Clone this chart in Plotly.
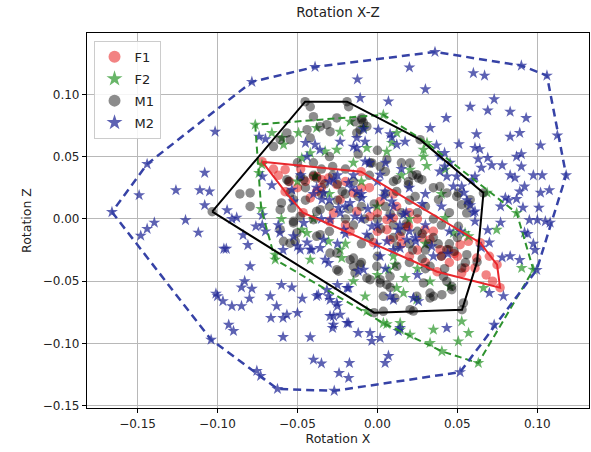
import plotly.graph_objects as go

# ---------------- data ----------------
F1_x = [-0.0721, -0.0102, 0.0642, 0.0748, 0.0767, 0.0373, -0.0465, -0.0577,
        -0.0577, -0.038, 0.0517, 0.0569, 0.0621, 0.0548, 0.0527, 0.061, 0.0444, 0.0392,
        0.0329, 0.0298, 0.0194, 0.0142, 0.0059, -0.040, -0.0348, -0.0306, -0.0254, -0.0379,
        -0.042, -0.0233, -0.015, -0.0129, -0.0275, -0.0046, 0.0017, 0.0059, 0.01, 0.0184,
        -0.0025, -0.0171, 0.0079, 0.02, 0.03, 0.025, 0.04, 0.045, -0.03, -0.02, 0.0, 0.015,
        -0.05, -0.062, -0.045, 0.01, 0.02, 0.035, 0.048, 0.068, 0.07, -0.005, 0.025, 0.072,
        -0.055, -0.035, -0.02, -0.01, 0.0, 0.012, 0.028, 0.05, -0.065, -0.048]
F1_y = [0.0459, 0.0379, -0.0191, -0.0368, -0.0552, -0.0424, 0.005, 0.0218,
        0.0395, 0.0341, -0.0207, -0.018, -0.0314, -0.0394, -0.0434, -0.0394, -0.0247, -0.0247,
        -0.0167, -0.0087, -0.006, -0.014, -0.0006, 0.0341, 0.0314, 0.0328, 0.0274, 0.022,
        0.0168, 0.0154, 0.0208, 0.006, 0.0047, 0.002, 0.014, -0.0087, 0.0007, -0.006,
        -0.019, -0.010, -0.0167, -0.03, -0.035, -0.025, -0.03, -0.035, -0.002, -0.005, -0.01, -0.02,
        0.025, 0.035, 0.03, 0.02, 0.005, -0.01, -0.028, -0.045, -0.03, 0.025, 0.0, -0.05,
        0.03, 0.025, 0.03, 0.025, 0.005, 0.01, -0.015, -0.03, 0.04, 0.04]

F2_x = [-0.0764, 0.0037, 0.031, 0.0686, 0.0871, 0.0975, 0.0631, 0.0403, 0.0037, -0.0639, -0.0727,
        0.0902, 0.0663, 0.0527, 0.057, 0.0506, 0.035, 0.0142, 0.0059, 0.0142, 0.0204, 0.0329,
        0.0121, 0.0163, 0.0246, 0.0173, 0.011, 0.0069, 0.0454, 0.0329, 0.0423, 0.0548, 0.057,
        0.0475, 0.0746, 0.0288, 0.0309, 0.0059, 0.009, 0.0288, 0.0423, 0.0121, 0.0204,
        -0.066, -0.0597, -0.0493, -0.038, -0.0233, -0.017, -0.0087, -0.074, -0.0722, -0.0473,
        -0.042, -0.0327, -0.0254, -0.0066, -0.039, -0.0587, -0.042, -0.0473, -0.0441, -0.0306,
        -0.0077, -0.0066, -0.0233, -0.0223, -0.064,
        -0.03, -0.01, 0.0, 0.02, -0.02, 0.01, -0.04, 0.03, -0.05, 0.015, -0.06, 0.04, -0.015,
        0.0, -0.015, 0.025]
F2_y = [0.0756, 0.0836, 0.061, 0.021, 0.0047, -0.0408, -0.1157, -0.1063, -0.0836, -0.0327, 0.008,
        -0.0394, -0.0555, -0.0823, -0.0916, -0.0983, -0.089, -0.0836, -0.0845, -0.089, -0.093, -0.0996,
        -0.0555, -0.0595, -0.0648, -0.0474, -0.0367, -0.0408, -0.0542, -0.0502, 0.0007, -0.0113, -0.014,
        -0.0113, -0.0087, 0.050, 0.0425, 0.054, 0.061, 0.0555, 0.0395, 0.069, 0.0395,
        0.069, 0.0649, 0.069, 0.073, 0.070, 0.078, 0.073, 0.0368, 0.0435, 0.0488,
        0.0528, 0.0542, 0.0555, 0.0569, 0.0341, 0.0595, -0.0327, -0.0087, -0.0113, -0.018,
        -0.0622, -0.074, -0.0247, -0.0314, -0.0287,
        0.02, 0.03, 0.01, 0.0, -0.02, -0.03, 0.0, -0.02, 0.03, 0.035, 0.0, 0.02, 0.045,
        -0.045, -0.05, -0.04]

M1_x = [-0.0452, -0.019, 0.0267, 0.0663, 0.0623, 0.0529, -0.0021, -0.1033,
        -0.042, -0.040, -0.0358, -0.044, -0.0566, -0.0608, -0.065, -0.0546, -0.042,
        -0.0796, -0.086, -0.0796, -0.0556, -0.060, -0.0525, -0.0483, -0.040, -0.0358, -0.0525,
        -0.0316, -0.0296, -0.0254, -0.014, -0.0098, -0.0129, -0.0066, -0.0035, 0.0017, 0.0059,
        -0.0566, -0.0483, -0.038, -0.0546,
        0.0204, 0.0257, 0.0278, 0.0194, 0.0121, 0.039, 0.0434, 0.0382, 0.0496, 0.058, 0.057,
        0.0527, 0.0506, 0.0558, -0.018, -0.0098, -0.0087, -0.0108, -0.0608, -0.0535,
        -0.0608, -0.0587, -0.0546, -0.0514, -0.0525, -0.0504, -0.038, -0.0358, -0.0296, -0.0254,
        -0.0243, -0.015, -0.0108, -0.014, -0.0066, 0.0037, 0.0059, 0.0017,
        -0.0254, -0.0171, -0.015, -0.0046, -0.0004, 0.0017, 0.0079, 0.0121, 0.0037, 0.011, 0.0204,
        0.0225, 0.0246, 0.0288, 0.0329, 0.035, 0.0465, 0.0538, 0.0329, 0.0434, 0.0413,
        0.0506, 0.0559, 0.0527, 0.0465, 0.0403, 0.0329, 0.0434,
        0.0, 0.01, -0.01, 0.02, 0.03, -0.02, -0.03, 0.005, 0.015, -0.005, 0.025, 0.035, 0.04,
        -0.015, -0.025, 0.01, 0.02, -0.035, 0.03, 0.045, -0.046, -0.0046, 0.0194, 0.0246, 0.0236,
        -0.035, -0.025, -0.015, -0.005, 0.005, 0.015, 0.025, 0.035, 0.045, -0.03, -0.02, -0.01,
        0.0, 0.01, 0.02, 0.03, 0.04, 0.05, -0.04, -0.03, -0.02, 0.0, 0.015, -0.045, -0.01,
        0.005, -0.028, 0.028, 0.012, -0.038,
        -0.045, -0.04, -0.033, -0.022, -0.012, -0.002, 0.008, 0.018, 0.028, 0.038, 0.048, 0.055,
        -0.018, -0.008, 0.002, 0.012, 0.022, 0.032, 0.042, -0.028, -0.05, -0.012, 0.022, 0.035, 0.008]
M1_y = [0.0941, 0.0941, 0.0636, 0.0208, -0.0346, -0.0729, -0.0753, 0.0058,
        0.090, 0.082, 0.074, 0.0716, 0.069, 0.0636, 0.058, 0.0636, 0.065,
        0.0208, 0.020, 0.010, 0.030, 0.0128, 0.0154, 0.002, -0.0006, 0.0074, -0.002,
        0.0756, 0.070, 0.081, 0.078, 0.0796, 0.069, 0.0742, 0.0449, 0.042, 0.0475,
        0.0315, 0.034, 0.0328, 0.0208,
        0.0449, 0.0328, 0.0315, 0.030, 0.0315, 0.026, 0.0208, 0.0154, 0.018, 0.0154, 0.0114,
        0.0114, 0.0208, 0.0047, 0.090, 0.081, 0.077, 0.0716, 0.0074, 0.0087,
        -0.0087, -0.018, -0.0195, -0.018, -0.0033, -0.0113, -0.014, -0.0127, -0.0274, -0.0274,
        -0.042, -0.0314, -0.0367, -0.0434, -0.0474, -0.0742, -0.0528, -0.0514,
        -0.0408, -0.0328, -0.0381, -0.0488, -0.0381, -0.0488, -0.0461, -0.0381, -0.0622, -0.0635, -0.0729,
        -0.074, -0.0622, -0.0514, -0.0595, -0.0622, -0.0568, -0.0675, -0.0381, -0.0247, -0.0461,
        -0.006, -0.0287, -0.0394, -0.0542, -0.0608, -0.0635, -0.0502,
        0.0, -0.005, 0.01, -0.02, -0.025, 0.02, 0.01, 0.02, 0.005, -0.015, -0.01, -0.015, -0.005,
        -0.005, 0.028, 0.03, 0.015, 0.04, 0.01, -0.02, 0.0315, 0.0449, 0.0274, 0.0355, 0.018,
        0.02, 0.015, 0.03, 0.035, 0.01, -0.01, 0.005, 0.0, 0.005, -0.01, 0.0, -0.02,
        -0.03, -0.015, -0.035, -0.04, -0.03, -0.015, 0.045, 0.05, 0.04, 0.055, 0.045, 0.015, -0.035,
        0.038, 0.035, -0.032, 0.022, 0.006,
        0.025, 0.035, 0.028, 0.022, 0.018, 0.012, 0.004, -0.004, -0.012, -0.02, -0.026, -0.035,
        0.008, 0.0, -0.008, -0.022, -0.025, -0.02, -0.04, 0.042, 0.045, 0.052, 0.035, 0.025, -0.055]

M2_x = [0.036, 0.090, 0.106, 0.060, 0.067, 0.030, 0.073, 0.058, 0.069, 0.083, 0.093, 0.043,
        0.033, 0.062, 0.083, 0.089, 0.1125, 0.051, 0.037, 0.102, 0.061, 0.064, 0.087, 0.090,
        0.063, 0.069, 0.0715, 0.078, 0.090, 0.065, 0.083, 0.086, 0.0975, 0.103, 0.118, 0.061,
        0.059, 0.092, 0.089, 0.1075, 0.102, 0.080, 0.082, 0.087, 0.091, 0.101, 0.077, 0.095,
        0.100, 0.105, 0.108, 0.092, 0.094, 0.077, 0.069, 0.0975, 0.0985, 0.083, 0.078, 0.089,
        0.070, 0.065, 0.0996, 0.061, 0.060,
        -0.0785, -0.039, -0.1015, -0.144, -0.108, -0.149, -0.126, -0.111, -0.105, -0.108,
        -0.166, -0.094, -0.1395, -0.120, -0.088, -0.074, -0.070, -0.066, -0.072, -0.076, -0.072,
        -0.144, -0.148, -0.112, -0.091, -0.084, -0.081, -0.096, -0.0945, -0.072, -0.070, -0.0796,
        -0.062, -0.061, -0.059, -0.083, -0.085, -0.0785, -0.080, -0.101, -0.100, -0.0966, -0.091,
        -0.085, -0.093, -0.090, -0.104, -0.0754, -0.073, -0.0625, -0.067, -0.063, -0.0666, -0.060,
        -0.0535, -0.059, -0.0566, -0.050, -0.059, -0.047, -0.042, -0.040, -0.035, -0.037, -0.0316,
        -0.0296, -0.025, -0.0274, -0.028, -0.018, -0.012, -0.0046, -0.0035, 0.0017, 0.0069, 0.0048,
        -0.0175, -0.024, -0.018, -0.027, 0.0517, 0.0434, 0.0142, 0.0131, 0.073, 0.0788, 0.070,
        0.0225, 0.0257, 0.010, 0.008, -0.025, -0.018,
        -0.0125, 0.020, -0.0108, 0.0069, 0.0006, 0.0079, 0.009, 0.0121, -0.0087, -0.0077, -0.015,
        -0.0233, -0.0129, 0.039, 0.042, 0.0454, 0.042, 0.039, 0.0434, 0.0496, 0.0475, 0.0527,
        0.054, 0.056, 0.058, 0.061,
        -0.045, -0.039, -0.036, -0.0129, 0.0173, -0.0077, -0.0273, -0.018, -0.0129, -0.0098,
        -0.0171, -0.0243, -0.0337, -0.0347, 0.0017, 0.0048, 0.009, 0.008, 0.0163, 0.0131, 0.0184,
        0.0236, 0.0142, -0.0004, -0.0066, -0.0035, -0.014, -0.021, -0.0233, -0.0296, -0.0337,
        -0.042, -0.050, -0.0525, -0.046, -0.0525, -0.0535,
        -0.044, -0.041, -0.0358, -0.0483, -0.0327, -0.0306, -0.012, -0.0087, 0.0017,
        -0.038, -0.0306, -0.0254, -0.0233, -0.019, -0.0296, -0.0275, -0.019,
        -0.03, -0.02, -0.01, 0.0, 0.01, 0.02, 0.03, 0.04, 0.03, 0.02, 0.01, 0.0, -0.01, -0.02,
        -0.03, -0.04, 0.045, 0.035, 0.025, -0.005, 0.005, -0.015, 0.015,
        -0.048, -0.038, -0.025, -0.016, -0.006, 0.004, 0.014, 0.024, 0.034, 0.044, 0.052,
        -0.035, -0.025, 0.006, 0.018, 0.028, -0.044, 0.005]
M2_y = [0.134, 0.123, 0.115, 0.117, 0.115, 0.104, 0.096, 0.090, 0.087, 0.086, 0.081, 0.081,
        0.073, 0.068, 0.066, 0.069, 0.067, 0.060, 0.059, 0.059, 0.057, 0.056, 0.050, 0.052,
        0.048, 0.049, 0.043, 0.043, 0.042, 0.041, 0.035, 0.033, 0.035, 0.035, 0.035, 0.034,
        0.031, 0.026, 0.022, 0.023, 0.021, 0.017, 0.015, 0.016, 0.009, 0.009, 0.010, -0.001,
        -0.001, -0.002, -0.003, -0.011, -0.012, -0.003, -0.009, -0.020, -0.025, -0.030, -0.031, -0.033,
        -0.019, -0.023, -0.041, -0.002, 0.005,
        0.110, 0.122, 0.070, 0.044, 0.037, 0.019, 0.023, 0.023, 0.022, 0.011,
        0.0055, 0.007, -0.003, -0.001, 0.001, 0.066, 0.064, 0.027, 0.034, -0.006, 0.003,
        -0.008, -0.0135, -0.011, 0.000, -0.013, -0.021, -0.024, -0.024, -0.005, -0.010, -0.038,
        -0.005, -0.011, -0.025, -0.050, -0.055, -0.056, -0.064, -0.060, -0.062, -0.066, -0.070,
        -0.070, -0.085, -0.090, -0.097, -0.122, -0.126, -0.1365, -0.062, -0.070, -0.0795, -0.053,
        -0.055, -0.0795, -0.077, -0.0755, -0.0948, -0.064, -0.095, -0.113, -0.116, -0.061, -0.057,
        -0.065, -0.070, -0.078, -0.0876, -0.0836, -0.0916, -0.0916, -0.098, -0.0956, -0.110, -0.1157,
        -0.1157, -0.1237, -0.1277, -0.138, -0.123, -0.0876, -0.0876, -0.090, -0.085, -0.062, -0.0595,
        -0.0635, -0.066, -0.065, -0.062, -0.053, -0.0555,
        0.112, 0.1216, 0.097, 0.0943, 0.0716, 0.068, 0.0654, 0.0596, 0.072, 0.062, 0.058,
        0.062, 0.065, 0.050, 0.053, 0.045, 0.042, 0.038, 0.034, 0.034, 0.026, 0.026,
        0.021, 0.015, 0.011, 0.006,
        0.061, 0.0596, 0.0555, 0.057, 0.062, 0.046, 0.0315, 0.0288, 0.022, 0.0168,
        0.0128, 0.0087, 0.0208, 0.0154, 0.0355, 0.022, 0.014, 0.002, 0.0034, -0.0087, -0.0167,
        -0.0153, -0.0234, -0.0207, -0.0127, -0.006, 0.002, -0.0087, 0.0047, -0.0006, -0.0167,
        -0.0247, -0.022, -0.014, -0.0033, 0.014, 0.0234,
        -0.019, -0.0247, -0.0234, -0.0247, -0.0327, -0.0354, -0.042, -0.0408, -0.030,
        -0.062, -0.062, -0.0675, -0.0769, -0.0555, -0.078, -0.085, -0.0836,
        0.03, 0.01, 0.02, 0.03, 0.01, 0.025, 0.02, 0.01, -0.005, -0.01, -0.025, -0.005, 0.0, -0.012,
        0.015, 0.02, -0.01, -0.03, -0.045, 0.045, -0.04, 0.035, 0.04,
        0.035, 0.025, 0.035, 0.025, 0.008, 0.018, -0.005, -0.018, -0.022, -0.028, -0.01,
        0.0, -0.02, -0.018, 0.005, 0.012, 0.05, 0.045]

series_names = ["F1", "F2", "M1", "M2"]
x_ticks = [-0.15, -0.10, -0.05, 0.00, 0.05, 0.10]
y_ticks = [-0.15, -0.10, -0.05, 0.00, 0.05, 0.10]


def convex_hull(xs, ys):
    pts = sorted(set(zip(xs, ys)))
    if len(pts) < 3:
        return pts

    def cross(o, a, b):
        return (a[0] - o[0]) * (b[1] - o[1]) - (a[1] - o[1]) * (b[0] - o[0])

    lower = []
    for p in pts:
        while len(lower) >= 2 and cross(lower[-2], lower[-1], p) <= 0:
            lower.pop()
        lower.append(p)
    upper = []
    for p in reversed(pts):
        while len(upper) >= 2 and cross(upper[-2], upper[-1], p) <= 0:
            upper.pop()
        upper.append(p)
    hull = lower[:-1] + upper[:-1]
    return hull + [hull[0]]


styles = {
    "F1": dict(sym="circle", size=9.5, col="rgba(232,30,30,0.55)",
               line=dict(color="#e8262b", width=2, dash="solid")),
    "F2": dict(sym="star", size=9, col="rgba(40,150,40,0.7)",
               line=dict(color="#2e922e", width=2, dash="7px,4px")),
    "M1": dict(sym="circle", size=9.5, col="rgba(0,0,0,0.45)",
               line=dict(color="#000000", width=2, dash="solid")),
    "M2": dict(sym="star", size=9, col="rgba(30,38,150,0.72)",
               line=dict(color="#3642a6", width=2.5, dash="8px,5px")),
}
data = {"F1": (F1_x, F1_y), "F2": (F2_x, F2_y), "M1": (M1_x, M1_y), "M2": (M2_x, M2_y)}

fig = go.Figure()
for name in series_names:
    xs, ys = data[name]
    st = styles[name]
    fig.add_trace(go.Scatter(
        x=xs, y=ys, mode="markers", name=name, legendgroup=name,
        marker=dict(symbol=st["sym"], size=st["size"], color=st["col"], line=dict(width=0)),
    ))

for name in series_names:
    xs, ys = data[name]
    st = styles[name]
    hull = convex_hull(xs, ys)
    fig.add_trace(go.Scatter(
        x=[p[0] for p in hull], y=[p[1] for p in hull], mode="lines",
        line=st["line"], showlegend=False, hoverinfo="skip",
    ))

axis_common = dict(
    showgrid=True, gridcolor="#b8b8b8", gridwidth=1,
    showline=True, linecolor="black", linewidth=1.2, mirror=True,
    ticks="outside", ticklen=4, tickwidth=1, tickcolor="black",
    tickformat=".2f", zeroline=False, automargin=False,
    tickfont=dict(size=12, color="#222"),
)

fig.update_layout(
    width=591, height=452,
    margin=dict(l=87, r=2, t=33, b=44),
    paper_bgcolor="white", plot_bgcolor="white",
    font=dict(family="DejaVu Sans", size=12, color="#222"),
    title=dict(text="Rotation X-Z", x=0.572, xanchor="center", y=0.972, yanchor="middle",
               font=dict(size=13.5, color="#222")),
    xaxis=dict(axis_common, range=[-0.1816, 0.1323], tickvals=x_ticks,
               title=dict(text="Rotation X", font=dict(size=12.5), standoff=4)),
    yaxis=dict(axis_common, range=[-0.1518, 0.1492], tickvals=y_ticks,
               title=dict(text="Rotation Z", font=dict(size=12.5), standoff=8)),
    legend=dict(x=0.013, y=0.979, xanchor="left", yanchor="top",
                bgcolor="rgba(255,255,255,0.85)", bordercolor="#cccccc", borderwidth=1,
                font=dict(size=13, color="#222"), traceorder="grouped", tracegroupgap=2,
                itemsizing="constant"),
    showlegend=True,
)

fig.write_html("out.html", config={"displayModeBar": False},
               post_script="document.body.style.margin='0px';document.body.style.overflow='hidden';")
